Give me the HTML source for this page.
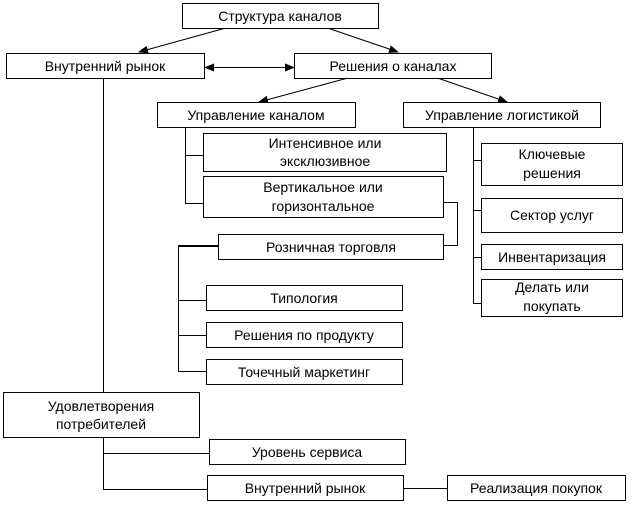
<!DOCTYPE html>
<html><head><meta charset="utf-8"><style>
html,body{margin:0;padding:0;background:#fff;}
svg{display:block;}
text{font-family:"Liberation Sans",Arial,sans-serif;font-size:14px;fill:#000;text-anchor:middle;}
rect{fill:#fff;stroke:#000;stroke-width:1;}
line,polyline{stroke:#000;stroke-width:1;fill:none;}
</style></head><body>
<svg width="640" height="508" viewBox="0 0 640 508" xmlns="http://www.w3.org/2000/svg">
<defs>
<marker id="a" markerWidth="10" markerHeight="8" refX="9" refY="4" orient="auto" markerUnits="userSpaceOnUse">
<path d="M0,0 L10,4 L0,8 z" fill="#000"/></marker>
<marker id="b" markerWidth="10" markerHeight="8" refX="1" refY="4" orient="auto" markerUnits="userSpaceOnUse">
<path d="M10,0 L0,4 L10,8 z" fill="#000"/></marker>
</defs>
<line x1="224" y1="28.5" x2="139" y2="52" marker-end="url(#a)"/>
<line x1="329" y1="28.5" x2="398" y2="52" marker-end="url(#a)"/>
<line x1="205" y1="67.5" x2="294" y2="67.5" marker-start="url(#b)" marker-end="url(#a)"/>
<line x1="346" y1="78.5" x2="259" y2="102" marker-end="url(#a)"/>
<line x1="439" y1="78.5" x2="507" y2="102" marker-end="url(#a)"/>
<line x1="103.5" y1="78" x2="103.5" y2="392"/>
<polyline points="185.5,127 185.5,203.5 206,203.5"/>
<line x1="185.5" y1="155.5" x2="206" y2="155.5"/>
<polyline points="443,202.5 457.5,202.5 457.5,245.5 444,245.5"/>
<polyline points="221,246 178.5,246 178.5,371.5 209,371.5" />
<line x1="178" y1="246" x2="221" y2="246" style="stroke-width:2"/>
<line x1="178.5" y1="300.5" x2="209" y2="300.5"/>
<line x1="178.5" y1="335.5" x2="209" y2="335.5"/>
<polyline points="473.5,127 473.5,303.5 481,303.5"/>
<line x1="473.5" y1="160.5" x2="481" y2="160.5"/>
<line x1="473.5" y1="210.5" x2="481" y2="210.5"/>
<line x1="473.5" y1="257.5" x2="481" y2="257.5"/>
<polyline points="103.5,437 103.5,489.5 209,489.5"/>
<line x1="103.5" y1="453.5" x2="212" y2="453.5"/>
<line x1="403" y1="488.5" x2="447" y2="488.5"/>
<rect x="182.5" y="3.5" width="196" height="25"/><text x="280" y="21">Структура каналов</text>
<rect x="6.5" y="53.5" width="198" height="25"/><text x="105" y="71">Внутренний рынок</text>
<rect x="294.5" y="53.5" width="197" height="25"/><text x="393" y="71">Решения о каналах</text>
<rect x="157.5" y="102.5" width="198" height="25"/><text x="256" y="120">Управление каналом</text>
<rect x="403.5" y="102.5" width="197" height="25"/><text x="502" y="120">Управление логистикой</text>
<rect x="203.5" y="133.5" width="243" height="38"/><text x="325" y="148">Интенсивное или</text><text x="325" y="166">эксклюзивное</text>
<rect x="203.5" y="176.5" width="240" height="41"/><text x="323" y="192">Вертикальное или</text><text x="323" y="211">горизонтальное</text>
<rect x="218.5" y="234.5" width="225" height="25"/><text x="331" y="252">Розничная торговля</text>
<rect x="206.5" y="285.5" width="196" height="25"/><text x="304" y="303">Типология</text>
<rect x="206.5" y="322.5" width="196" height="25"/><text x="304" y="340">Решения по продукту</text>
<rect x="206.5" y="359.5" width="196" height="25"/><text x="304" y="377">Точечный маркетинг</text>
<rect x="481.5" y="143.5" width="141" height="42"/><text x="552" y="159">Ключевые</text><text x="552" y="178">решения</text>
<rect x="481.5" y="198.5" width="141" height="34"/><text x="552" y="220">Сектор услуг</text>
<rect x="481.5" y="244.5" width="141" height="25"/><text x="552" y="262">Инвентаризация</text>
<rect x="481.5" y="279.5" width="141" height="37"/><text x="552" y="292">Делать или</text><text x="552" y="311">покупать</text>
<rect x="3.5" y="392.5" width="196" height="45"/><text x="101" y="411">Удовлетворения</text><text x="101" y="429">потребителей</text>
<rect x="209.5" y="439.5" width="196" height="25"/><text x="307" y="457">Уровень сервиса</text>
<rect x="207.5" y="475.5" width="196" height="25"/><text x="305" y="493">Внутренний рынок</text>
<rect x="447.5" y="475.5" width="178" height="25"/><text x="536" y="493">Реализация покупок</text>
</svg>
</body></html>
